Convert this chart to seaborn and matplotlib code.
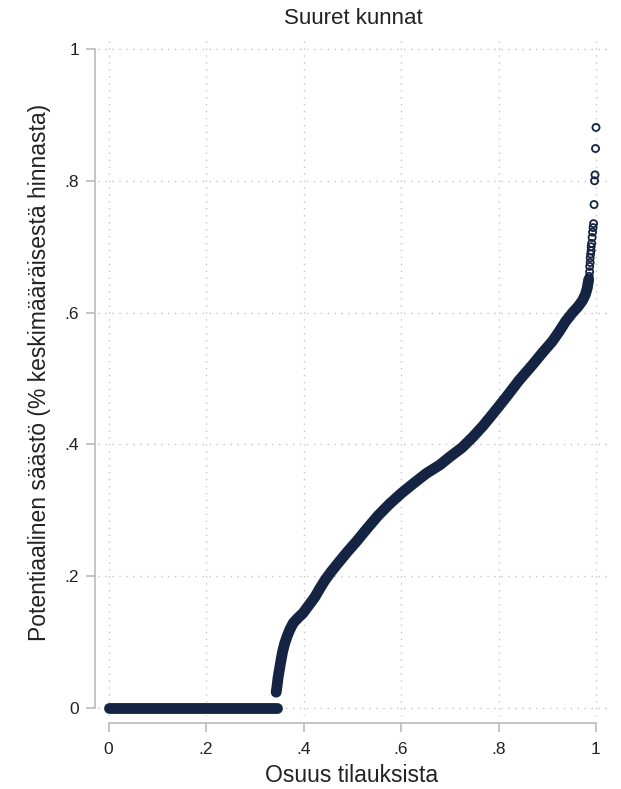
import numpy as np
import matplotlib as mpl
mpl.use('Agg')
import matplotlib.pyplot as plt
import seaborn as sns
import pandas as pd

# orders with no potential saving (flat part at zero)
zero_share = [0.0, 0.05, 0.10, 0.15, 0.20, 0.25, 0.30, 0.345]
zero_saving = [0.0, 0.0, 0.0, 0.0, 0.0, 0.0, 0.0, 0.0]

# dense rising part
rise_share = [0.344, 0.346, 0.348, 0.351, 0.354, 0.357, 0.361, 0.366, 0.372, 0.379,
              0.389, 0.399, 0.410, 0.423, 0.434, 0.445, 0.457, 0.470, 0.490, 0.509,
              0.530, 0.553, 0.577, 0.601, 0.626, 0.652, 0.680, 0.700, 0.725, 0.747,
              0.768, 0.788, 0.815, 0.842, 0.870, 0.890, 0.911, 0.925, 0.938, 0.952,
              0.963, 0.972, 0.978, 0.982, 0.985]
rise_saving = [0.024, 0.035, 0.047, 0.060, 0.073, 0.085, 0.097, 0.108, 0.119, 0.129,
               0.137, 0.144, 0.155, 0.168, 0.182, 0.195, 0.207, 0.219, 0.237, 0.253,
               0.272, 0.292, 0.310, 0.326, 0.341, 0.356, 0.369, 0.381, 0.395, 0.411,
               0.428, 0.446, 0.471, 0.497, 0.521, 0.539, 0.557, 0.572, 0.587, 0.600,
               0.609, 0.618, 0.627, 0.637, 0.650]

# sparse top end, individual circles visible
top_share = [0.986, 0.987, 0.987, 0.988, 0.988, 0.989, 0.990, 0.990, 0.991,
             0.992, 0.993, 0.994, 0.995, 0.996, 0.997, 0.998, 0.999, 1.000]
top_saving = [0.655, 0.662, 0.670, 0.676, 0.683, 0.689, 0.694, 0.700, 0.705,
              0.714, 0.722, 0.729, 0.735, 0.764, 0.800, 0.809, 0.849, 0.881]

ticks = [0, 0.2, 0.4, 0.6, 0.8, 1.0]
tick_labels = ['0', '.2', '.4', '.6', '.8', '1']

navy = '#162444'
gray = '#b4b4b4'
txt = '#222222'

sns.set_theme(style='white')
plt.rcParams['font.family'] = ['Liberation Sans', 'DejaVu Sans']

W, H = 621, 789
fig = plt.figure(figsize=(W / 100, H / 100), dpi=100)
# plot region in pixels
left, right, top, bottom = 98, 610, 40, 716
ax = fig.add_axes([left / W, 1 - bottom / H, (right - left) / W, (bottom - top) / H])

# data -> pixel calibration: x 0 at 108.5, 1 at 596; y 0 at 708, 1 at 49
x0, x1 = 108.5, 596.0
y0, y1 = 708.0, 49.0
ax.set_xlim((left - x0) / (x1 - x0), (right - x0) / (x1 - x0))
ax.set_ylim((y0 - bottom) / (y0 - y1), (y0 - top) / (y0 - y1))

df = pd.DataFrame({
    'share': zero_share + rise_share,
    'saving': zero_saving + rise_saving,
    'part': ['zero'] * len(zero_share) + ['rise'] * len(rise_share),
})

sns.lineplot(data=df, x='share', y='saving', units='part', estimator=None,
             color=navy, linewidth=7.8, solid_capstyle='round',
             solid_joinstyle='round', sort=False,
             ax=ax, legend=False, zorder=3)
for ln in ax.lines:
    ln.set_clip_on(False)

sns.scatterplot(x=top_share, y=top_saving, ax=ax, marker='o', s=26,
                facecolor='none', edgecolor=navy, linewidth=1.3, zorder=4,
                clip_on=False)

ax.set_xticks(ticks)
ax.set_xticklabels(tick_labels)
ax.set_yticks(ticks)
ax.set_yticklabels(tick_labels)
ax.grid(True, linestyle=(0, (1, 4)), color='#c4c4c4', linewidth=1)
ax.set_axisbelow(True)

for s in ['top', 'right']:
    ax.spines[s].set_visible(False)
ax.spines['left'].set_position(('outward', 2.2))
ax.spines['bottom'].set_position(('outward', 5))
for s in ['left', 'bottom']:
    ax.spines[s].set_bounds(0, 1)
    ax.spines[s].set_color(gray)
    ax.spines[s].set_linewidth(1.1)

ax.tick_params(axis='both', length=6.5, width=1.1, color=gray,
               labelsize=12.5, labelcolor=txt, left=True, bottom=True)
ax.tick_params(axis='y', pad=5)
ax.tick_params(axis='x', pad=7)
ax.set_xlabel('')
ax.set_ylabel('')

fig.text(353 / W, 1 - 18 / H, 'Suuret kunnat', ha='center', va='center',
         fontsize=16, color=txt)
fig.text(352 / W, 1 - 775 / H, 'Osuus tilauksista', ha='center', va='center',
         fontsize=16.5, color=txt)
fig.text(40 / W, 1 - 372 / H, 'Potentiaalinen säästö (% keskimääräisestä hinnasta)',
         ha='center', va='center', rotation=90, fontsize=16.5, color=txt)

fig.savefig('out.png', dpi=100)
